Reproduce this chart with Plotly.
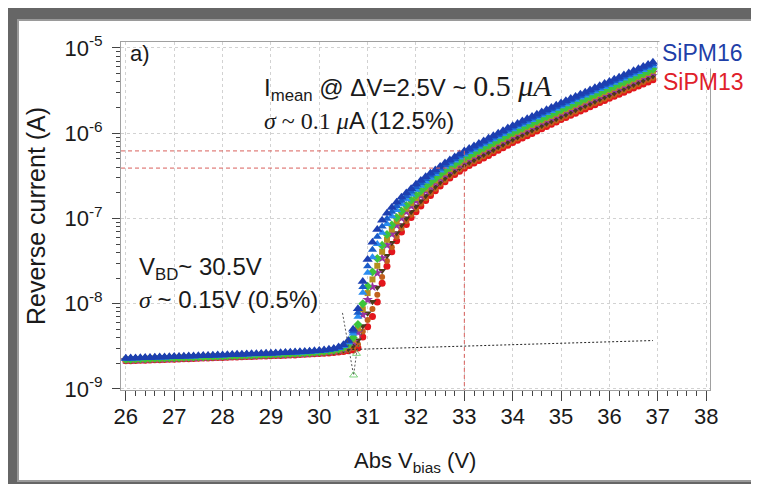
import plotly.graph_objects as go

# ---------------- data ----------------
bias_v = [
    26.0, 26.1, 26.2, 26.3, 26.4, 26.5, 26.6, 26.7, 26.8, 26.9,
    27.0, 27.1, 27.2, 27.3, 27.4, 27.5, 27.6, 27.7, 27.8, 27.9,
    28.0, 28.1, 28.2, 28.3, 28.4, 28.5, 28.6, 28.7, 28.8, 28.9,
    29.0, 29.1, 29.2, 29.3, 29.4, 29.5, 29.6, 29.7, 29.8, 29.9,
    30.0, 30.1, 30.2, 30.3, 30.4, 30.5, 30.6, 30.7, 30.8, 30.9,
    31.0, 31.1, 31.2, 31.3, 31.4, 31.5, 31.6, 31.7, 31.8, 31.9,
    32.0, 32.1, 32.2, 32.3, 32.4, 32.5, 32.6, 32.7, 32.8, 32.9,
    33.0, 33.1, 33.2, 33.3, 33.4, 33.5, 33.6, 33.7, 33.8, 33.9,
    34.0, 34.1, 34.2, 34.3, 34.4, 34.5, 34.6, 34.7, 34.8, 34.9,
    35.0, 35.1, 35.2, 35.3, 35.4, 35.5, 35.6, 35.7, 35.8, 35.9,
    36.0, 36.1, 36.2, 36.3, 36.4, 36.5, 36.6, 36.7, 36.8, 36.9,
]

# log10 of reverse current (A), one list per SiPM
sipm16_log_i = [
    -8.640, -8.638, -8.636, -8.634, -8.632, -8.630, -8.628, -8.626, -8.624, -8.622,
    -8.620, -8.618, -8.616, -8.614, -8.612, -8.610, -8.608, -8.606, -8.604, -8.602,
    -8.600, -8.598, -8.596, -8.594, -8.592, -8.590, -8.588, -8.586, -8.584, -8.582,
    -8.580, -8.578, -8.576, -8.573, -8.570, -8.567, -8.564, -8.561, -8.557, -8.553,
    -8.549, -8.543, -8.535, -8.524, -8.507, -8.480, -8.430, -8.300, -8.060, -7.740,
    -7.480, -7.280, -7.130, -7.020, -6.940, -6.870, -6.810, -6.750, -6.700, -6.650,
    -6.600, -6.555, -6.510, -6.470, -6.430, -6.390, -6.350, -6.315, -6.280, -6.245,
    -6.210, -6.180, -6.150, -6.120, -6.090, -6.060, -6.030, -6.000, -5.970, -5.940,
    -5.912, -5.885, -5.858, -5.831, -5.804, -5.777, -5.750, -5.724, -5.698, -5.672,
    -5.646, -5.620, -5.594, -5.568, -5.543, -5.518, -5.493, -5.468, -5.443, -5.418,
    -5.393, -5.368, -5.343, -5.318, -5.293, -5.268, -5.243, -5.218, -5.193, -5.168,
]
sipm9_log_i = [
    -8.643, -8.641, -8.639, -8.637, -8.635, -8.633, -8.631, -8.629, -8.627, -8.625,
    -8.623, -8.621, -8.619, -8.617, -8.615, -8.613, -8.611, -8.609, -8.607, -8.605,
    -8.603, -8.601, -8.599, -8.597, -8.595, -8.593, -8.591, -8.589, -8.587, -8.585,
    -8.583, -8.581, -8.579, -8.576, -8.573, -8.571, -8.568, -8.565, -8.561, -8.557,
    -8.553, -8.547, -8.539, -8.529, -8.513, -8.488, -8.443, -8.324, -8.106, -7.805,
    -7.559, -7.367, -7.215, -7.094, -7.002, -6.922, -6.855, -6.791, -6.737, -6.684,
    -6.632, -6.585, -6.538, -6.496, -6.455, -6.413, -6.372, -6.336, -6.301, -6.265,
    -6.230, -6.200, -6.170, -6.140, -6.110, -6.080, -6.050, -6.020, -5.990, -5.960,
    -5.932, -5.905, -5.878, -5.851, -5.824, -5.797, -5.770, -5.744, -5.718, -5.692,
    -5.666, -5.640, -5.614, -5.588, -5.563, -5.538, -5.513, -5.488, -5.463, -5.438,
    -5.413, -5.388, -5.363, -5.338, -5.313, -5.288, -5.263, -5.238, -5.213, -5.188,
]
sipm15_log_i = [
    -8.646, -8.644, -8.642, -8.640, -8.638, -8.636, -8.634, -8.632, -8.630, -8.628,
    -8.626, -8.624, -8.622, -8.620, -8.618, -8.616, -8.614, -8.612, -8.610, -8.608,
    -8.606, -8.604, -8.602, -8.600, -8.598, -8.596, -8.594, -8.592, -8.590, -8.588,
    -8.586, -8.584, -8.582, -8.579, -8.576, -8.574, -8.571, -8.568, -8.564, -8.560,
    -8.556, -8.551, -8.543, -8.534, -8.519, -8.496, -8.455, -8.348, -8.152, -7.870,
    -7.638, -7.454, -7.300, -7.168, -7.064, -6.974, -6.900, -6.832, -6.774, -6.718,
    -6.664, -6.615, -6.566, -6.522, -6.479, -6.436, -6.394, -6.357, -6.321, -6.285,
    -6.250, -6.220, -6.190, -6.160, -6.130, -6.100, -6.070, -6.040, -6.010, -5.980,
    -5.952, -5.925, -5.898, -5.871, -5.844, -5.817, -5.790, -5.764, -5.738, -5.712,
    -5.685, -5.659, -5.633, -5.607, -5.582, -5.557, -5.532, -5.507, -5.482, -5.457,
    -5.433, -5.408, -5.383, -5.358, -5.333, -5.308, -5.283, -5.258, -5.233, -5.208,
]
sipm14_log_i = [
    -8.652, -8.650, -8.648, -8.646, -8.644, -8.642, -8.640, -8.638, -8.636, -8.634,
    -8.632, -8.630, -8.628, -8.626, -8.624, -8.622, -8.620, -8.618, -8.616, -8.614,
    -8.612, -8.610, -8.608, -8.606, -8.604, -8.602, -8.600, -8.598, -8.596, -8.594,
    -8.592, -8.590, -8.588, -8.585, -8.583, -8.580, -8.577, -8.574, -8.571, -8.567,
    -8.563, -8.558, -8.552, -8.543, -8.531, -8.512, -8.479, -8.397, -8.244, -8.000,
    -7.796, -7.628, -7.470, -7.316, -7.188, -7.078, -6.990, -6.914, -6.848, -6.786,
    -6.728, -6.675, -6.622, -6.574, -6.528, -6.482, -6.438, -6.399, -6.362, -6.325,
    -6.290, -6.260, -6.230, -6.200, -6.170, -6.140, -6.110, -6.080, -6.050, -6.020,
    -5.991, -5.964, -5.937, -5.910, -5.883, -5.856, -5.829, -5.803, -5.777, -5.751,
    -5.724, -5.698, -5.672, -5.646, -5.621, -5.596, -5.571, -5.546, -5.521, -5.496,
    -5.473, -5.448, -5.423, -5.398, -5.373, -5.348, -5.323, -5.298, -5.273, -5.248,
]
sipm10_log_i = [
    -8.655, -8.653, -8.651, -8.649, -8.647, -8.645, -8.643, -8.641, -8.639, -8.637,
    -8.635, -8.633, -8.631, -8.629, -8.627, -8.625, -8.623, -8.621, -8.619, -8.617,
    -8.615, -8.613, -8.611, -8.609, -8.607, -8.605, -8.603, -8.601, -8.599, -8.597,
    -8.595, -8.593, -8.591, -8.589, -8.586, -8.584, -8.581, -8.578, -8.574, -8.571,
    -8.567, -8.562, -8.556, -8.548, -8.537, -8.520, -8.492, -8.421, -8.290, -8.065,
    -7.875, -7.715, -7.555, -7.390, -7.250, -7.130, -7.035, -6.955, -6.885, -6.820,
    -6.760, -6.705, -6.650, -6.600, -6.553, -6.505, -6.460, -6.420, -6.383, -6.345,
    -6.310, -6.280, -6.250, -6.220, -6.190, -6.160, -6.130, -6.100, -6.070, -6.040,
    -6.011, -5.984, -5.957, -5.930, -5.903, -5.876, -5.849, -5.823, -5.797, -5.771,
    -5.744, -5.718, -5.692, -5.666, -5.641, -5.616, -5.591, -5.566, -5.541, -5.516,
    -5.493, -5.468, -5.443, -5.418, -5.393, -5.368, -5.343, -5.318, -5.293, -5.268,
]
sipm12_log_i = [
    -8.658, -8.656, -8.654, -8.652, -8.650, -8.648, -8.646, -8.644, -8.642, -8.640,
    -8.638, -8.636, -8.634, -8.632, -8.630, -8.628, -8.626, -8.624, -8.622, -8.620,
    -8.618, -8.616, -8.614, -8.612, -8.610, -8.608, -8.606, -8.604, -8.602, -8.600,
    -8.598, -8.596, -8.594, -8.592, -8.589, -8.587, -8.584, -8.581, -8.577, -8.574,
    -8.571, -8.566, -8.560, -8.553, -8.542, -8.528, -8.504, -8.445, -8.336, -8.130,
    -7.954, -7.802, -7.640, -7.464, -7.312, -7.182, -7.080, -6.996, -6.922, -6.854,
    -6.792, -6.735, -6.678, -6.626, -6.577, -6.528, -6.482, -6.441, -6.403, -6.365,
    -6.330, -6.300, -6.270, -6.240, -6.210, -6.180, -6.150, -6.120, -6.090, -6.060,
    -6.031, -6.004, -5.977, -5.950, -5.923, -5.896, -5.869, -5.843, -5.817, -5.791,
    -5.764, -5.738, -5.712, -5.686, -5.661, -5.636, -5.611, -5.586, -5.561, -5.536,
    -5.513, -5.488, -5.463, -5.438, -5.413, -5.388, -5.363, -5.338, -5.313, -5.288,
]
sipm11_log_i = [
    -8.664, -8.662, -8.660, -8.658, -8.656, -8.654, -8.652, -8.650, -8.648, -8.646,
    -8.644, -8.642, -8.640, -8.638, -8.636, -8.634, -8.632, -8.630, -8.628, -8.626,
    -8.624, -8.622, -8.620, -8.618, -8.616, -8.614, -8.612, -8.610, -8.608, -8.606,
    -8.604, -8.602, -8.600, -8.598, -8.596, -8.593, -8.590, -8.587, -8.584, -8.581,
    -8.578, -8.573, -8.569, -8.562, -8.554, -8.544, -8.528, -8.494, -8.428, -8.260,
    -8.112, -7.976, -7.810, -7.612, -7.436, -7.286, -7.170, -7.078, -6.996, -6.922,
    -6.856, -6.795, -6.734, -6.678, -6.626, -6.574, -6.526, -6.483, -6.444, -6.405,
    -6.370, -6.340, -6.310, -6.280, -6.250, -6.220, -6.190, -6.160, -6.130, -6.100,
    -6.070, -6.043, -6.016, -5.989, -5.962, -5.935, -5.908, -5.882, -5.856, -5.830,
    -5.803, -5.777, -5.751, -5.725, -5.700, -5.675, -5.650, -5.625, -5.600, -5.575,
    -5.553, -5.528, -5.503, -5.478, -5.453, -5.428, -5.403, -5.378, -5.353, -5.328,
]
sipm8_log_i = [
    -8.667, -8.665, -8.663, -8.661, -8.659, -8.657, -8.655, -8.653, -8.651, -8.649,
    -8.647, -8.645, -8.643, -8.641, -8.639, -8.637, -8.635, -8.633, -8.631, -8.629,
    -8.627, -8.625, -8.623, -8.621, -8.619, -8.617, -8.615, -8.613, -8.611, -8.609,
    -8.607, -8.605, -8.603, -8.601, -8.599, -8.597, -8.594, -8.591, -8.588, -8.585,
    -8.582, -8.577, -8.573, -8.567, -8.560, -8.552, -8.541, -8.518, -8.474, -8.325,
    -8.191, -8.063, -7.895, -7.686, -7.498, -7.338, -7.215, -7.119, -7.033, -6.956,
    -6.888, -6.825, -6.762, -6.704, -6.651, -6.597, -6.548, -6.504, -6.465, -6.425,
    -6.390, -6.360, -6.330, -6.300, -6.270, -6.240, -6.210, -6.180, -6.150, -6.120,
    -6.090, -6.063, -6.036, -6.009, -5.982, -5.955, -5.928, -5.902, -5.876, -5.850,
    -5.823, -5.797, -5.771, -5.745, -5.720, -5.695, -5.670, -5.645, -5.620, -5.595,
    -5.573, -5.548, -5.523, -5.498, -5.473, -5.448, -5.423, -5.398, -5.373, -5.348,
]
sipm13_log_i = [
    -8.670, -8.668, -8.666, -8.664, -8.662, -8.660, -8.658, -8.656, -8.654, -8.652,
    -8.650, -8.648, -8.646, -8.644, -8.642, -8.640, -8.638, -8.636, -8.634, -8.632,
    -8.630, -8.628, -8.626, -8.624, -8.622, -8.620, -8.618, -8.616, -8.614, -8.612,
    -8.610, -8.608, -8.606, -8.604, -8.602, -8.600, -8.597, -8.594, -8.591, -8.588,
    -8.585, -8.581, -8.577, -8.572, -8.566, -8.560, -8.553, -8.542, -8.520, -8.390,
    -8.270, -8.150, -7.980, -7.760, -7.560, -7.390, -7.260, -7.160, -7.070, -6.990,
    -6.920, -6.855, -6.790, -6.730, -6.675, -6.620, -6.570, -6.525, -6.485, -6.445,
    -6.410, -6.380, -6.350, -6.320, -6.290, -6.260, -6.230, -6.200, -6.170, -6.140,
    -6.110, -6.083, -6.056, -6.029, -6.002, -5.975, -5.948, -5.921, -5.894, -5.867,
    -5.840, -5.815, -5.790, -5.765, -5.740, -5.715, -5.690, -5.665, -5.640, -5.615,
    -5.590, -5.566, -5.542, -5.518, -5.494, -5.470, -5.446, -5.422, -5.398, -5.374,
]

# reference lines / fits
i_mean_hi = 6.2e-7
i_mean_lo = 3.9e-7
v_at_dv = 33.0
v_axis_left = 25.9
i_axis_bottom = 9.0e-10
baseline_v = [30.6, 36.9]
baseline_i = [2.9e-9, 3.7e-9]
vbd_v = [30.48, 30.71, 30.77, 30.90]
vbd_i = [7.8e-9, 1.45e-9, 2.6e-9, 5.2e-9]
vbd_marker = [0, 7, 7, 0]

y_tick_vals = [1e-9, 1e-8, 1e-7, 1e-6, 1e-5]
y_tick_text = ["10<sup>-9</sup>", "10<sup>-8</sup>", "10<sup>-7</sup>",
               "10<sup>-6</sup>", "10<sup>-5</sup>"]
x_tick_vals = [26, 27, 28, 29, 30, 31, 32, 33, 34, 35, 36, 37, 38]

# ---------------- figure ----------------
SANS = "Liberation Sans, Arial, sans-serif"

fig = go.Figure()

series = [
    ("SiPM13", sipm13_log_i, "circle", "#e3161c", 7),
    ("SiPM8", sipm8_log_i, "circle", "#c2601a", 6),
    ("SiPM11", sipm11_log_i, "triangle-down", "#4a3a1c", 7),
    ("SiPM12", sipm12_log_i, "star", "#9a34a0", 8),
    ("SiPM10", sipm10_log_i, "square", "#b58f1e", 6),
    ("SiPM14", sipm14_log_i, "diamond", "#3cc43c", 7),
    ("SiPM15", sipm15_log_i, "triangle-up", "#2b8df0", 8),
    ("SiPM9", sipm9_log_i, "triangle-up", "#1a5cc8", 8),
    ("SiPM16", sipm16_log_i, "triangle-up", "#1d3fb0", 9),
]
for name, logs, sym, col, size in series:
    fig.add_trace(go.Scatter(
        x=bias_v, y=[10 ** v for v in logs], mode="markers", name=name,
        marker=dict(symbol=sym, color=col, size=size, line=dict(width=0)),
        showlegend=False))

# baseline fit (black dotted)
fig.add_trace(go.Scatter(x=baseline_v, y=baseline_i, mode="lines",
                         line=dict(color="#222222", width=1, dash="2px,2px"),
                         showlegend=False))
# breakdown extraction curve (dotted V with open green triangles)
fig.add_trace(go.Scatter(x=vbd_v, y=vbd_i, mode="lines+markers",
                         line=dict(color="#555555", width=1, dash="2px,2px"),
                         marker=dict(symbol="triangle-up-open", size=vbd_marker,
                                     color="#4cc34c", line=dict(width=1)),
                         showlegend=False))
# red dashed guide lines
for iv in (i_mean_hi, i_mean_lo):
    fig.add_trace(go.Scatter(x=[v_axis_left, v_at_dv], y=[iv, iv], mode="lines",
                             line=dict(color="#d9605c", width=1, dash="4px,3px"),
                             showlegend=False))
fig.add_trace(go.Scatter(x=[v_at_dv, v_at_dv], y=[i_mean_hi, i_axis_bottom], mode="lines",
                         line=dict(color="#d9605c", width=1, dash="4px,3px"),
                         showlegend=False))

PL, PR, PT, PB = 113, 702, 34, 382
W, H = 759, 484


def px(x):
    return (x - PL) / (PR - PL)


def py(y):
    return (PB - y) / (PB - PT)


fig.update_layout(
    width=W, height=H,
    margin=dict(l=PL, r=W - PR, t=PT, b=H - PB, pad=0),
    paper_bgcolor="#666666", plot_bgcolor="white",
    font=dict(family=SANS, color="#1a1a1a", size=22),
    showlegend=False,
    xaxis=dict(
        range=[25.9, 38.08], tickmode="array", tickvals=x_tick_vals,
        ticks="outside", ticklen=10, tickcolor="#444444", tickwidth=1,
        tickfont=dict(size=22, family=SANS, color="#1a1a1a"),
        ticklabelstandoff=-3,
        showline=True, linecolor="#a0a0a0", linewidth=1, mirror=True,
        showgrid=True, gridcolor="#d2d2d2", griddash="dot", gridwidth=1,
        minor=dict(dtick=0.2, tick0=26, ticks="outside", ticklen=5,
                   tickcolor="#444444", showgrid=False),
        zeroline=False,
    ),
    yaxis=dict(
        type="log", range=[-9.012, -4.93], tickmode="array",
        tickvals=y_tick_vals, ticktext=y_tick_text,
        ticks="outside", ticklen=8, tickcolor="#444444", tickwidth=1,
        tickfont=dict(size=22, family=SANS, color="#1a1a1a"),
        ticklabelstandoff=5,
        showline=True, linecolor="#a0a0a0", linewidth=1, mirror=True,
        showgrid=True, gridcolor="#d2d2d2", griddash="dot", gridwidth=1,
        minor=dict(tickmode="array",
                   tickvals=[m * 10 ** e for e in range(-9, -4) for m in range(2, 10)],
                   ticks="outside", ticklen=4, tickcolor="#444444", showgrid=False),
        zeroline=False,
    ),
)

# white page with grey frame
fig.add_shape(type="rect", xref="paper", yref="paper",
              x0=px(10), x1=px(753), y0=py(473), y1=py(12),
              fillcolor="white", line=dict(color="#9a9a9a", width=2), layer="below")

ann = []
ann.append(dict(text="a)", x=px(120), y=py(45), xanchor="left", yanchor="middle",
                font=dict(size=22)))
ann.append(dict(
    text='I<sub>mean</sub> @ ΔV=2.5V ~ <span style="font-family:Liberation Serif;font-size:30px">0.5 <i>μA</i></span>',
    x=px(255), y=py(98), xanchor="left", yanchor="bottom", font=dict(size=24),
    borderpad=0))
ann.append(dict(
    text='<span style="font-family:Liberation Serif"><i>σ</i> ~ 0.1 <i>μ</i></span>A (12.5%)',
    x=px(255), y=py(98), xanchor="left", yanchor="top", font=dict(size=24),
    borderpad=0))
ann.append(dict(text="V<sub>BD</sub>~ 30.5V", x=px(130), y=py(277), xanchor="left",
                yanchor="bottom", font=dict(size=24), borderpad=0))
ann.append(dict(
    text='<span style="font-family:Liberation Serif"><i>σ</i></span> ~ 0.15V (0.5%)',
    x=px(130), y=py(277), xanchor="left", yanchor="top", font=dict(size=24),
    borderpad=0))
# legend-like labels
ann.append(dict(text="SiPM16", x=px(651), y=py(45), xanchor="left", yanchor="middle",
                font=dict(size=23, color="#1f3fa8"), bgcolor="white", borderpad=2))
ann.append(dict(text="SiPM13", x=px(653), y=py(74), xanchor="left", yanchor="middle",
                font=dict(size=23, color="#e0202a")))
# axis titles
ann.append(dict(text="Reverse current (A)", x=px(28), y=py(208), xanchor="center",
                yanchor="middle", textangle=-90, font=dict(size=25)))
ann.append(dict(text="Abs V<sub>bias</sub> (V)", x=px(407), y=py(454), xanchor="center",
                yanchor="middle", font=dict(size=22)))

for a in ann:
    a.update(xref="paper", yref="paper", showarrow=False)
    fig.add_annotation(**a)

fig.write_html("out.html")
